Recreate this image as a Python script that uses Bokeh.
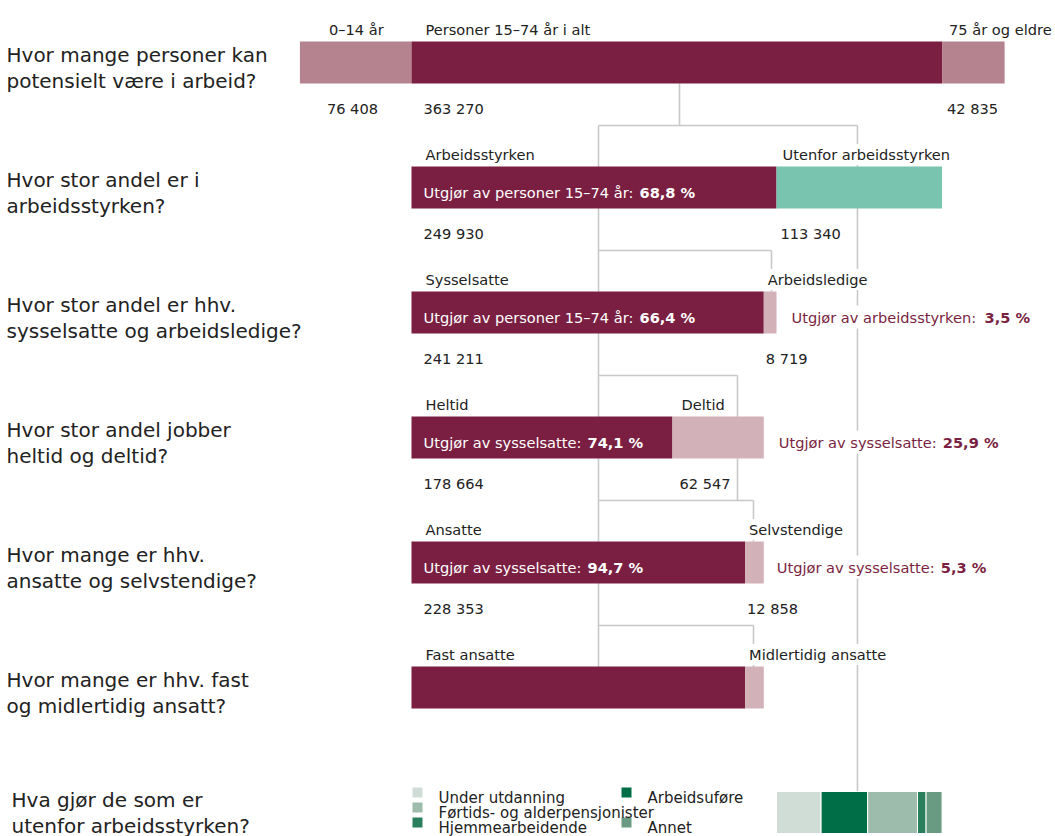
from bokeh.plotting import figure
from bokeh.models import Range1d, ColumnDataSource
from bokeh.core.properties import value
from bokeh.embed import file_html
from bokeh.resources import INLINE

# ---------------- data ----------------
age_groups = ["0–14 år", "Personer 15–74 år i alt", "75 år og eldre"]
age_values = [76408, 363270, 42835]
force_groups = ["Arbeidsstyrken", "Utenfor arbeidsstyrken"]
force_values = [249930, 113340]
emp_groups = ["Sysselsatte", "Arbeidsledige"]
emp_values = [241211, 8719]
hours_groups = ["Heltid", "Deltid"]
hours_values = [178664, 62547]
status_groups = ["Ansatte", "Selvstendige"]
status_values = [228353, 12858]
contract_groups = ["Fast ansatte", "Midlertidig ansatte"]
contract_values = [228400, 12800]
outside_groups = ["Under utdanning", "Arbeidsuføre", "Førtids- og alderpensjonister",
                  "Hjemmearbeidende", "Annet"]
outside_values = [30500, 31900, 34100, 5900, 10940]

questions = [
    ["Hvor mange personer kan", "potensielt være i arbeid?"],
    ["Hvor stor andel er i", "arbeidsstyrken?"],
    ["Hvor stor andel er hhv.", "sysselsatte og arbeidsledige?"],
    ["Hvor stor andel jobber", "heltid og deltid?"],
    ["Hvor mange er hhv.", "ansatte og selvstendige?"],
    ["Hvor mange er hhv. fast", "og midlertidig ansatt?"],
    ["Hva gjør de som er", "utenfor arbeidsstyrken?"],
]

# ---------------- style ----------------
MAROON = "#7a1f42"
PINK = "#b5838f"
LIGHT = "#d3b1b9"
TEAL = "#79c4af"
GREENS = ["#d0dcd6", "#006f48", "#9ebcab", "#2a7f5d", "#699a82"]
TXT = "#222222"
LINE = "#c8c8c8"
FONT = "DejaVu Sans"
LBL = "14.6px"
QFS = "20px"
LEGFS = "15px"

K = 1.4605e-3   # px per person
X0 = 411        # screen px of person 0
Y0 = 62         # screen px of row 0 centre
ROW = 125       # px per row
W, HGT = 1055, 836


def sx(px):
    return (px - X0) / K


def sy(py):
    return (py - Y0) / ROW


def fmt(v):
    return f"{v:,}".replace(",", " ")


def pct(a, b):
    return f"{100 * a / b:.1f} %".replace(".", ",")


p = figure(width=W, height=HGT, output_backend="svg", toolbar_location=None,
           x_range=Range1d(sx(0), sx(W)), y_range=Range1d(sy(HGT), sy(0)),
           min_border=0, outline_line_color=None)
p.axis.visible = False
p.grid.visible = False
p.background_fill_color = "white"
p.border_fill_color = "white"

# ---------------- connector lines ----------------
seg = [
    (679, 83, 679, 125), (598, 125, 857, 125), (598, 125, 598, 667), (857, 125, 857, 791),
    (598, 250, 771, 250), (771, 250, 771, 291),
    (598, 375, 737, 375), (737, 375, 737, 500),
    (598, 500, 753, 500), (753, 500, 753, 541),
    (598, 625, 753, 625), (753, 625, 753, 667),
]
p.segment(x0=[sx(s[0]) for s in seg], y0=[sy(s[1]) for s in seg],
          x1=[sx(s[2]) for s in seg], y1=[sy(s[3]) for s in seg],
          line_color=LINE, line_width=1.6)

# ---------------- bars ----------------
rows = [
    (0, age_groups, age_values, -age_values[0], [PINK, MAROON, PINK]),
    (1, force_groups, force_values, 0, [MAROON, TEAL]),
    (2, emp_groups, emp_values, 0, [MAROON, LIGHT]),
    (3, hours_groups, hours_values, 0, [MAROON, LIGHT]),
    (4, status_groups, status_values, 0, [MAROON, LIGHT]),
    (5, contract_groups, contract_values, 0, [MAROON, LIGHT]),
]
H = 42 / ROW
lefts, rights, ys, cols = [], [], [], []
for r, names, vals, start, colors in rows:
    x = start
    for v, c in zip(vals, colors):
        lefts.append(x); rights.append(x + v); ys.append(r); cols.append(c)
        x += v
p.hbar(y=ys, left=lefts, right=rights, height=H, fill_color=cols, line_color=None)

# bottom stacked bar (outside labour force)
ol, orr = [], []
x = force_values[0]
for v in outside_values:
    ol.append(x); orr.append(x + v); x += v
p.hbar(y=[6] * len(outside_values), left=ol, right=orr, height=H,
       fill_color=GREENS, line_color="white", line_width=1)

# ---------------- labels ----------------
lab = dict(x=[], y=[], t=[], xo=[])
val = dict(x=[], y=[], t=[], xo=[])
offsets = {0: [27, 12, 5], 1: [12, 4], 2: [12, 2], 3: [12, 7], 4: [12, 2], 5: [12, 2]}
for r, names, vals, start, colors in rows:
    x = start
    for i, (n, v) in enumerate(zip(names, vals)):
        lab["x"].append(x); lab["y"].append(r); lab["t"].append(n); lab["xo"].append(offsets[r][i])
        if r < 5:
            val["x"].append(x); val["y"].append(r); val["t"].append(fmt(v)); val["xo"].append(offsets[r][i])
        x += v

p.text(x="x", y="y", text="t", x_offset="xo", y_offset=-33, source=ColumnDataSource(lab),
       text_font=value(FONT), text_font_size=LBL, text_color=TXT, text_baseline="alphabetic",
       background_fill_color="white", padding=2)
p.text(x="x", y="y", text="t", x_offset="xo", y_offset=45.5, source=ColumnDataSource(val),
       text_font=value(FONT), text_font_size=LBL, text_color=TXT, text_baseline="alphabetic")

# in-bar share texts
P1 = "Utgjør av personer 15–74 år: "
P2 = "Utgjør av sysselsatte: "
W1, W2, W3 = 216, 164, 193
inbar = dict(
    y=[1, 2, 3, 4],
    pre=[P1, P1, P2, P2],
    bold=[pct(force_values[0], age_values[1]), pct(emp_values[0], age_values[1]),
          pct(hours_values[0], emp_values[0]), pct(status_values[0], emp_values[0])],
    x=[0, 0, 0, 0],
    xo=[12, 12, 12, 12],
    xb=[12 + W1, 12 + W1, 12 + W2, 12 + W2],
)
src = ColumnDataSource(inbar)
p.text(x="x", y="y", text="pre", x_offset="xo", y_offset=4.5, source=src, text_font=value(FONT),
       text_font_size=LBL, text_color="white", text_baseline="alphabetic")
p.text(x="x", y="y", text="bold", x_offset="xb", y_offset=4.5, source=src, text_font=value(FONT),
       text_font_size=LBL, text_color="white", text_font_style="bold", text_baseline="alphabetic")

# right-hand share annotations
side = dict(
    y=[2, 3, 4],
    x=[sum(emp_values), sum(hours_values), sum(status_values)],
    pre=["Utgjør av arbeidsstyrken: ", P2, P2],
    bold=[pct(emp_values[1], force_values[0]), pct(hours_values[1], emp_values[0]),
          pct(status_values[1], emp_values[0])],
    xo=[12, 12, 10],
    xb=[12 + W3, 12 + W2, 10 + W2],
)
src2 = ColumnDataSource(side)
p.text(x="x", y="y", text="pre", x_offset="xo", y_offset=4.5, source=src2, text_font=value(FONT),
       text_font_size=LBL, text_color=MAROON, text_baseline="alphabetic",
       background_fill_color="white", padding=3)
p.text(x="x", y="y", text="bold", x_offset="xb", y_offset=4.5, source=src2, text_font=value(FONT),
       text_font_size=LBL, text_color=MAROON, text_font_style="bold", text_baseline="alphabetic",
       background_fill_color="white", padding=3)

# ---------------- questions ----------------
qx, qy, qt, qo = [], [], [], []
for r, (a, b) in enumerate(questions):
    xx = sx(11) if r == 6 else sx(6)
    d = -5 if r == 6 else 0
    qx += [xx, xx]; qy += [r, r]; qt += [a, b]; qo += [-7.5 + d, 18 + d]
p.text(x=qx, y=qy, text=qt, y_offset=qo, text_font=value(FONT), text_font_size=QFS,
       text_color=TXT, text_baseline="alphabetic")

# ---------------- legend for bottom bar ----------------
leg_px = [(417, 792), (626, 792), (417, 807), (417, 822), (626, 822)]
p.scatter(x=[sx(a) for a, b in leg_px], y=[sy(b) for a, b in leg_px], marker="square",
          size=10, fill_color=GREENS, line_color=None)
p.text(x=[sx(a + 21) for a, b in leg_px], y=[sy(b) for a, b in leg_px], text=outside_groups,
       y_offset=5, text_font=value(FONT), text_font_size=LEGFS, text_color=TXT,
       text_baseline="alphabetic")

open("out.html", "w").write(file_html(p, INLINE))
